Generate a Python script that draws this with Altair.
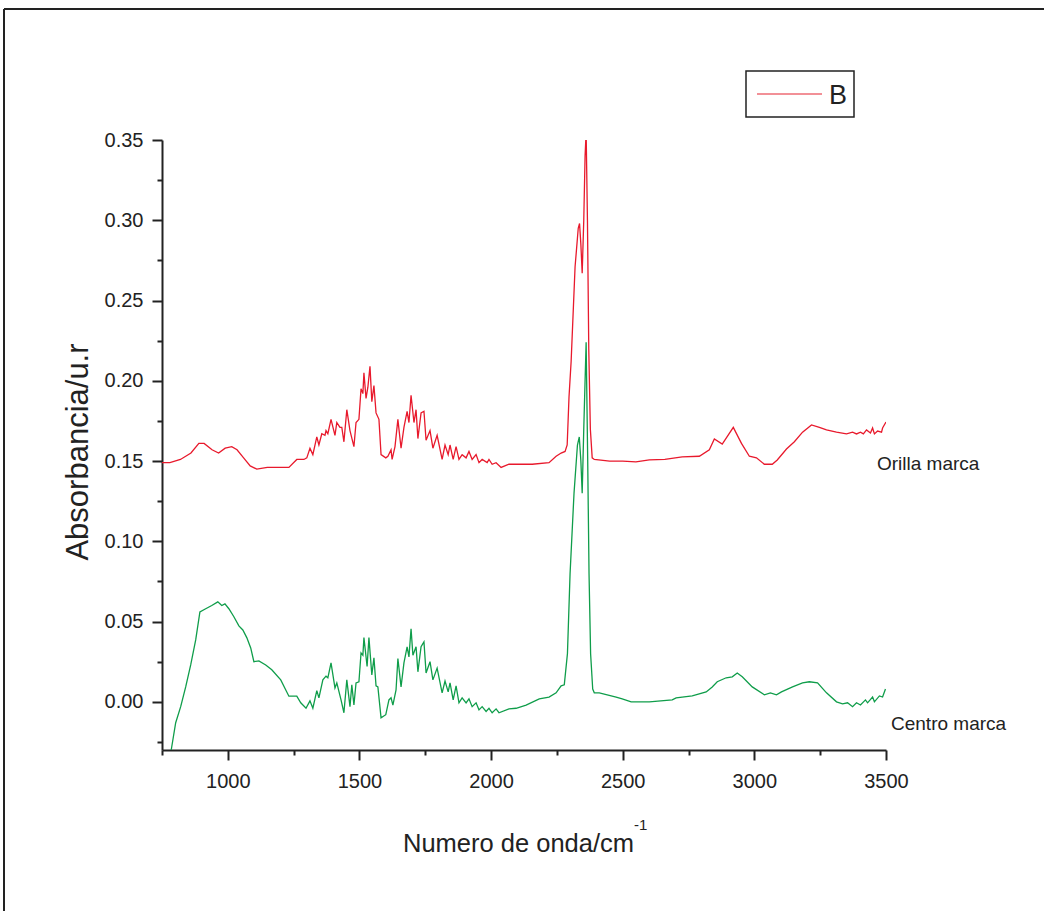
import altair as alt
import pandas as pd

# ---- data ----
red_wn = [750, 780, 820, 860, 890, 910, 940, 965, 990, 1015, 1035, 1060, 1085, 1110, 1150, 1200, 1232,
          1262, 1289, 1300, 1312, 1323, 1338, 1346, 1357, 1369, 1373, 1380, 1392, 1407, 1414, 1426, 1433,
          1441, 1452, 1464, 1479, 1487, 1498, 1506, 1513, 1517, 1525, 1532, 1540, 1547, 1555, 1563, 1574,
          1582, 1600, 1608, 1620, 1624, 1635, 1646, 1658, 1669, 1681, 1688, 1696, 1707, 1715, 1722, 1734,
          1745, 1753, 1768, 1779, 1795, 1814, 1825, 1837, 1844, 1856, 1867, 1878, 1890, 1905, 1916, 1928,
          1943, 1954, 1966, 1985, 1992, 2004, 2019, 2038, 2068, 2156, 2220, 2247, 2266, 2281, 2289, 2296,
          2304, 2319, 2331, 2336, 2341, 2346, 2352, 2357, 2361, 2366, 2371, 2377, 2384, 2392, 2450, 2500,
          2550, 2601, 2660, 2726, 2791, 2829, 2848, 2878, 2920, 2951, 2981, 3008, 3038, 3068, 3087, 3122,
          3152, 3183, 3217, 3247, 3274, 3312, 3350, 3373, 3388, 3403, 3414, 3426, 3441, 3449, 3456, 3468,
          3483, 3487, 3500]
red_abs = [0.149, 0.149, 0.151, 0.155, 0.161, 0.161, 0.157, 0.155, 0.158, 0.159, 0.157, 0.152, 0.147, 0.145,
           0.146, 0.146, 0.146, 0.151, 0.151, 0.152, 0.158, 0.154, 0.165, 0.160, 0.167, 0.166, 0.169, 0.167,
           0.176, 0.166, 0.174, 0.171, 0.171, 0.162, 0.182, 0.169, 0.159, 0.174, 0.176, 0.195, 0.192, 0.205,
           0.189, 0.196, 0.209, 0.187, 0.197, 0.180, 0.176, 0.154, 0.152, 0.153, 0.157, 0.151, 0.159, 0.176,
           0.158, 0.171, 0.181, 0.174, 0.191, 0.174, 0.182, 0.164, 0.180, 0.181, 0.163, 0.169, 0.158, 0.166,
           0.151, 0.160, 0.154, 0.160, 0.151, 0.159, 0.151, 0.154, 0.152, 0.156, 0.151, 0.154, 0.149, 0.151,
           0.149, 0.151, 0.148, 0.149, 0.146, 0.148, 0.148, 0.149, 0.153, 0.155, 0.156, 0.160, 0.190, 0.212,
           0.271, 0.295, 0.298, 0.285, 0.267, 0.300, 0.340, 0.355, 0.300, 0.220, 0.170, 0.152, 0.151, 0.150,
           0.150, 0.1495, 0.1507, 0.151, 0.1526, 0.153, 0.157, 0.1637, 0.1606, 0.171, 0.161, 0.153, 0.152,
           0.148, 0.148, 0.1507, 0.1575, 0.162, 0.168, 0.1725, 0.171, 0.1694, 0.168, 0.1669, 0.168, 0.1669,
           0.168, 0.1669, 0.1694, 0.1675, 0.1706, 0.1669, 0.1687, 0.168, 0.1706, 0.1743]

green_wn = [760, 785, 802, 821, 840, 859, 878, 894, 916, 939, 962, 977, 989, 1004, 1023, 1042, 1057, 1072,
            1087, 1099, 1118, 1144, 1167, 1201, 1232, 1262, 1277, 1297, 1312, 1323, 1338, 1346, 1361, 1373,
            1380, 1392, 1407, 1414, 1430, 1441, 1452, 1464, 1471, 1479, 1487, 1498, 1506, 1513, 1517, 1529,
            1536, 1547, 1555, 1563, 1570, 1582, 1600, 1612, 1620, 1627, 1639, 1646, 1658, 1669, 1681, 1688,
            1696, 1703, 1715, 1722, 1734, 1745, 1753, 1768, 1779, 1795, 1814, 1825, 1837, 1844, 1856, 1867,
            1878, 1890, 1905, 1916, 1928, 1943, 1954, 1966, 1981, 1992, 2004, 2019, 2030, 2068, 2095, 2133,
            2183, 2220, 2247, 2266, 2278, 2290, 2300, 2315, 2328, 2335, 2341, 2346, 2352, 2361, 2367, 2372,
            2378, 2386, 2392, 2411, 2475, 2498, 2532, 2601, 2688, 2703, 2764, 2817, 2840, 2859, 2893, 2916,
            2935, 2954, 2992, 3038, 3061, 3084, 3103, 3145, 3183, 3209, 3240, 3274, 3312, 3335, 3354, 3373,
            3388, 3403, 3422, 3430, 3449, 3456, 3475, 3487, 3498]
green_abs = [-0.055, -0.030, -0.013, -0.003, 0.0093, 0.023, 0.0386, 0.056, 0.058, 0.060, 0.0623, 0.060, 0.061,
             0.058, 0.053, 0.0473, 0.0448, 0.040, 0.0336, 0.025, 0.0255, 0.023, 0.020, 0.0137, 0.0035, 0.0035,
             -0.0006, -0.004, 0.0006, -0.004, 0.007, 0.0025, 0.0137, 0.016, 0.015, 0.0243, 0.0087, 0.0118,
             0.0012, -0.0068, 0.0137, -0.003, 0.0106, -0.002, 0.0118, 0.0125, 0.0305, 0.029, 0.040, 0.022,
             0.040, 0.0168, 0.0274, 0.010, 0.0093, -0.010, -0.008, 0.0012, 0.0025, -0.002, 0.0075, 0.027,
             0.0093, 0.0243, 0.0343, 0.028, 0.0455, 0.029, 0.0343, 0.0187, 0.0343, 0.0374, 0.018, 0.025,
             0.0137, 0.021, 0.0056, 0.013, 0.0062, 0.0118, 0.0012, 0.010, -0.0006, 0.0025, -0.0006, 0.0019,
             -0.003, -0.0006, -0.005, -0.003, -0.006, -0.004, -0.0068, -0.0044, -0.0068, -0.0044, -0.004,
             -0.002, 0.0019, 0.003, 0.0056, 0.010, 0.0106, 0.030, 0.080, 0.130, 0.160, 0.165, 0.150, 0.130,
             0.170, 0.224, 0.150, 0.080, 0.030, 0.008, 0.0056, 0.0056, 0.003, 0.0019, 0.0, 0.0, 0.0012,
             0.0025, 0.0037, 0.0062, 0.0093, 0.0125, 0.015, 0.0156, 0.018, 0.0156, 0.0093, 0.0044, 0.0056,
             0.0044, 0.0062, 0.0093, 0.0118, 0.0125, 0.0118, 0.0056, 0.0, -0.0012, -0.0006, -0.003, -0.0006,
             -0.002, 0.0012, -0.0006, 0.003, 0.0, 0.0037, 0.003, 0.008]

series_names = ["Orilla marca", "Centro marca"]
series_colors = ["#e8192c", "#0f9d4a"]
x_ticks = list(range(750, 3501, 250))
y_ticks = [round(i * 0.025, 3) for i in range(-1, 15)]

df = pd.concat([
    pd.DataFrame({"wn": red_wn, "abs": red_abs, "series": series_names[0]}),
    pd.DataFrame({"wn": green_wn, "abs": green_abs, "series": series_names[1]}),
])

W, H = 724, 610
FONT = "Liberation Sans"
INK = "#222222"

x_axis = alt.Axis(
    values=x_ticks, title=None, grid=False,
    labelExpr="datum.value % 500 === 0 ? format(datum.value, 'd') : ''",
    tickSize={"condition": {"test": "datum.value % 500 === 0", "value": 10}, "value": 5},
    labelPadding=11, labelFontSize=20, labelFont=FONT, labelColor=INK,
    labelOverlap=False, labelFlush=False,
    domainColor=INK, domainWidth=2, tickColor=INK, tickWidth=2,
)
y_axis = alt.Axis(
    values=y_ticks, title=None, grid=False,
    labelExpr="abs(datum.value*20 - round(datum.value*20)) < 1e-6 ? format(datum.value, '.2f') : ''",
    tickSize={"condition": {"test": "abs(datum.value*20 - round(datum.value*20)) < 1e-6", "value": 10}, "value": 5},
    labelPadding=9, labelFontSize=20, labelFont=FONT, labelColor=INK,
    labelOverlap=False, labelFlush=False,
    domainColor=INK, domainWidth=2, tickColor=INK, tickWidth=2,
)

lines = alt.Chart(df).mark_line(strokeWidth=1.3, clip=True).encode(
    x=alt.X("wn:Q", scale=alt.Scale(domain=[750, 3500], nice=False, zero=False), axis=x_axis),
    y=alt.Y("abs:Q", scale=alt.Scale(domain=[-0.03, 0.35], nice=False, zero=False), axis=y_axis),
    color=alt.Color("series:N", scale=alt.Scale(domain=series_names, range=series_colors), legend=None),
    detail="series:N",
)

one = pd.DataFrame({"k": [0]})

def text(label, x, y, size, align="left", baseline="alphabetic", angle=0):
    return alt.Chart(one).mark_text(
        text=label, align=align, baseline=baseline, angle=angle, fontSize=size,
        font=FONT, color=INK,
    ).encode(x=alt.value(x), y=alt.value(y))

frame_left = alt.Chart(one).mark_rule(color=INK, strokeWidth=2).encode(
    x=alt.value(-158), y=alt.value(-131), y2=alt.value(771))
frame_top = alt.Chart(one).mark_rule(color=INK, strokeWidth=2).encode(
    x=alt.value(-158), x2=alt.value(882), y=alt.value(-131))

legend_box = alt.Chart(one).mark_rect(fill="white", stroke=INK, strokeWidth=1.5).encode(
    x=alt.value(584), x2=alt.value(692), y=alt.value(-69), y2=alt.value(-23))
legend_line = alt.Chart(one).mark_rule(color="#ee6b74", strokeWidth=1.6).encode(
    x=alt.value(595), x2=alt.value(660), y=alt.value(-46))
legend_text = text("B", 667, -36, 27)

x_title = text("Numero de onda/cm", 241, 712, 25.5)
x_sup = text("-1", 472, 690, 15)
y_title = text("Absorbancia/u.r", -74, 312, 31, align="center", angle=270)
lab_orilla = text("Orilla marca", 715, 330, 19)
lab_centro = text("Centro marca", 729, 590, 19)

chart = alt.layer(
    frame_left, frame_top, lines, legend_box, legend_line, legend_text,
    x_title, x_sup, y_title, lab_orilla, lab_centro,
).properties(
    width=W, height=H,
    autosize=alt.AutoSizeParams(type="none"),
    padding={"left": 162, "top": 140, "right": 158, "bottom": 161},
).configure(font=FONT, background="white").configure_view(stroke=None)

chart.save("out.html", embed_options={"renderer": "svg", "actions": False})
